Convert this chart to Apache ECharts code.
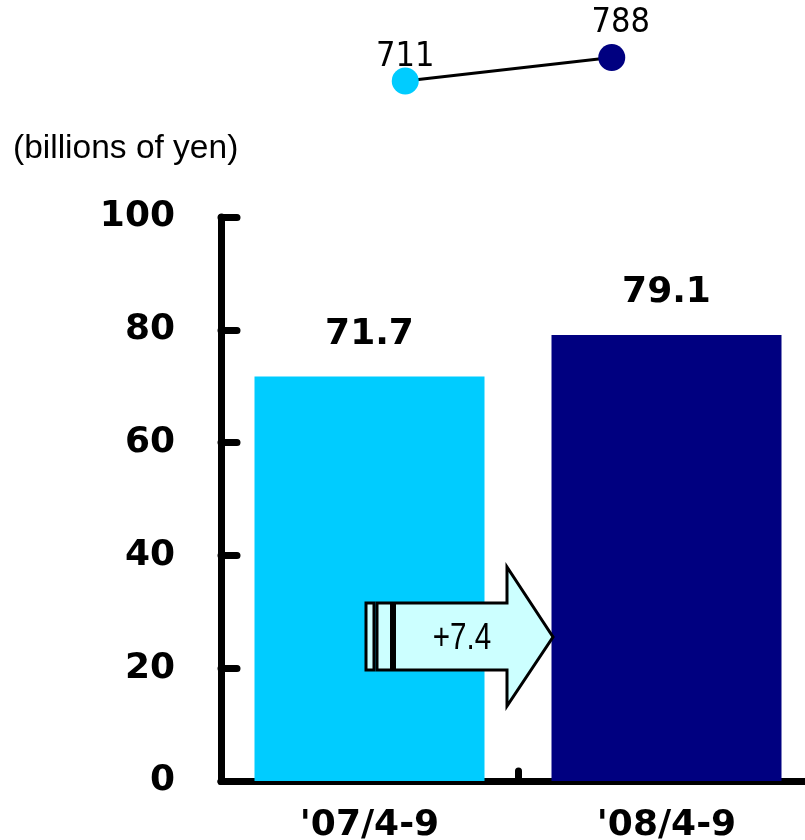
<!DOCTYPE html>
<html>
<head>
<meta charset="utf-8">
<script src="https://cdn.jsdelivr.net/npm/echarts@6/dist/echarts.min.js"></script>
<style>html,body{margin:0;padding:0;background:#fff}#c{width:805px;height:840px}</style>
</head>
<body>
<div id="c"></div>
<script>
const categories = ["'07/4-9", "'08/4-9"];
const barValues = [71.7, 79.1];
const lineValues = [711, 788];
const barColors = ['#00CCFF', '#000080'];
const yTicks = [0, 20, 40, 60, 80, 100];
const unitLabel = '(billions of yen)';
const changeLabel = '+' + (barValues[1] - barValues[0]).toFixed(1);

const narrow = "'Liberation Sans Narrow', 'DejaVu Sans Condensed', 'Liberation Sans', sans-serif";
const boldFont = "'DejaVu Sans', sans-serif";

const chart = echarts.init(document.getElementById('c'), null, {renderer: 'canvas'});

const option = {
  backgroundColor: '#ffffff',
  animation: false,
  title: {
    text: unitLabel,
    left: 8, top: 127,
    textStyle: {fontFamily: "'Liberation Sans', sans-serif", fontSize: 33.5, fontWeight: 'normal', color: '#000'}
  },
  grid: [
    {left: 221, top: 217, width: 594, height: 564, outerBoundsMode: 'none'},
    {left: 302, top: 23.3, width: 413, height: 91.6, outerBoundsMode: 'none'}
  ],
  xAxis: [
    {
      type: 'category', gridIndex: 0, data: categories, boundaryGap: true,
      axisLine: {lineStyle: {color: '#000', width: 7, cap: 'round'}},
      axisTick: {show: true, interval: 0, inside: true, length: 10, lineStyle: {color: '#000', width: 7, cap: 'round'}},
      axisLabel: {margin: 27, fontFamily: boldFont, fontWeight: 'bold', fontSize: 36, color: '#000', lineHeight: 36}
    },
    {type: 'category', gridIndex: 1, data: categories, show: false, boundaryGap: true}
  ],
  yAxis: [
    {
      type: 'value', gridIndex: 0, min: 0, max: 100, interval: 20,
      axisLine: {show: true, lineStyle: {color: '#000', width: 7, cap: 'round'}},
      axisTick: {show: true, inside: true, length: 16, lineStyle: {color: '#000', width: 7, cap: 'round'}},
      splitLine: {show: false},
      axisLabel: {margin: 46, fontFamily: boldFont, fontWeight: 'bold', fontSize: 36, color: '#000',
        formatter: v => yTicks.includes(v) ? String(v) : ''}
    },
    {type: 'value', gridIndex: 1, min: 600, max: 900, show: false}
  ],
  series: [
    {
      type: 'bar', xAxisIndex: 0, yAxisIndex: 0, barWidth: 230,
      data: barValues.map((v, i) => ({value: v, itemStyle: {color: barColors[i]}})),
      label: {show: true, position: 'top', distance: 24, fontFamily: boldFont, fontWeight: 'bold',
        fontSize: 36, color: '#000', lineHeight: 36, formatter: p => p.value.toFixed(1)},
      z: 2
    },
    {
      type: 'line', xAxisIndex: 1, yAxisIndex: 1,
      symbol: 'circle', symbolSize: 27,
      lineStyle: {color: '#000', width: 3},
      data: lineValues.map((v, i) => ({
        value: v,
        itemStyle: {color: barColors[i]},
        label: {offset: i === 1 ? [9, 0] : [0, 0], distance: i === 1 ? 4 : -7}
      })),
      label: {show: true, position: 'top', fontFamily: narrow, fontSize: 34, color: '#000'},
      z: 5
    }
  ],
  graphic: [
    {type: 'group', z: 100, children: [
      {type: 'rect', z: 100, shape: {x: 366, y: 603, width: 8, height: 67},
        style: {fill: '#CCFFFF', stroke: '#000', lineWidth: 3}},
      {type: 'rect', z: 100, shape: {x: 377, y: 603, width: 14.5, height: 67},
        style: {fill: '#CCFFFF', stroke: '#000', lineWidth: 3}},
      {type: 'polygon', z: 100, shape: {points: [[394.5, 603], [507, 603], [507, 567], [553, 637], [507, 706], [507, 670], [394.5, 670]]},
        style: {fill: '#CCFFFF', stroke: '#000', lineWidth: 3, lineJoin: 'miter'}},
      {type: 'text', z: 101, x: 462, y: 639, scaleX: 0.8,
        style: {text: changeLabel, fontFamily: "'Liberation Sans', sans-serif", fontSize: 37, fill: '#000', align: 'center', verticalAlign: 'middle'}}
    ]}
  ]
};
chart.setOption(option);
</script>
</body>
</html>
